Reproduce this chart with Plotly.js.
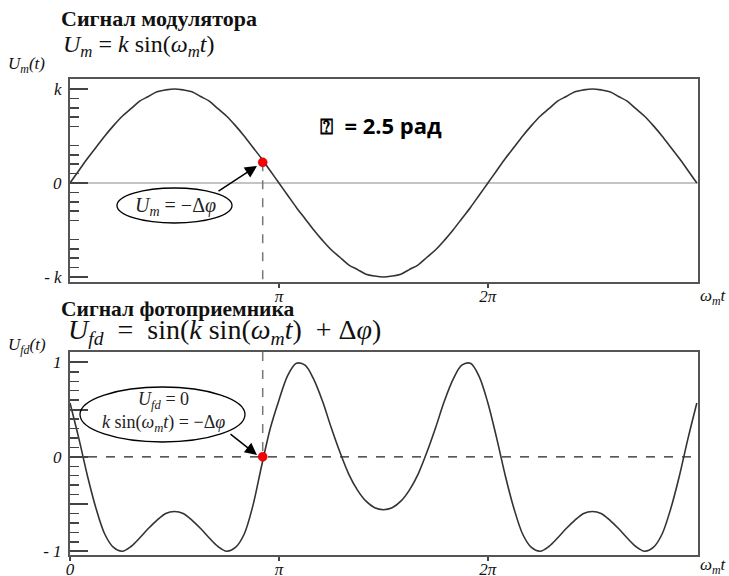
<!DOCTYPE html>
<html>
<head>
<meta charset="utf-8">
<script src="https://cdn.plot.ly/plotly-3.0.1.min.js"></script>
<style>html,body{margin:0;padding:0;background:#fff;}#chart{width:729px;height:576px;}</style>
</head>
<body>
<div id="chart"></div>
<script>
// phase ωm·t in degrees (180 = π)
const phaseDeg = [0,7.5,15,22.5,30,37.5,45,52.5,60,67.5,75,82.5,90,
  97.5,105,112.5,120,127.5,135,142.5,150,157.5,165,172.5,180,
  187.5,195,202.5,210,217.5,225,232.5,240,247.5,255,262.5,270,
  277.5,285,292.5,300,307.5,315,322.5,330,337.5,345,352.5,360,
  367.5,375,382.5,390,397.5,405,412.5,420,427.5,435,442.5,450,
  457.5,465,472.5,480,487.5,495,502.5,510,517.5,525,532.5,540];
// modulator signal, units of k
const modulatorU = [0,0.13,0.26,0.38,0.5,0.61,0.71,0.79,0.87,0.92,0.97,0.99,1,
  0.99,0.97,0.92,0.87,0.79,0.71,0.61,0.5,0.38,0.26,0.13,0,
  -0.13,-0.26,-0.38,-0.5,-0.61,-0.71,-0.79,-0.87,-0.92,-0.97,-0.99,-1,
  -0.99,-0.97,-0.92,-0.87,-0.79,-0.71,-0.61,-0.5,-0.38,-0.26,-0.13,0,
  0.13,0.26,0.38,0.5,0.61,0.71,0.79,0.87,0.92,0.97,0.99,1,
  0.99,0.97,0.92,0.87,0.79,0.71,0.61,0.5,0.38,0.26,0.13,0];
// photodetector signal
const detectorU = [0.57,0.20,-0.20,-0.55,-0.82,-0.96,-1.00,-0.95,-0.86,-0.76,-0.67,-0.60,-0.58,
  -0.60,-0.67,-0.76,-0.86,-0.95,-1.00,-0.96,-0.82,-0.52,-0.10,0.30,0.60,
  0.86,0.99,0.97,0.82,0.59,0.31,0.05,-0.18,-0.35,-0.47,-0.54,-0.56,
  -0.54,-0.47,-0.35,-0.18,0.05,0.31,0.59,0.82,0.97,0.99,0.85,0.57,
  0.20,-0.20,-0.55,-0.82,-0.96,-1.00,-0.95,-0.86,-0.76,-0.67,-0.60,-0.58,
  -0.60,-0.67,-0.76,-0.86,-0.95,-1.00,-0.96,-0.82,-0.55,-0.20,0.20,0.57];
// marked operating point
const pointPhase = [166];
const pointModU = [0.22];
const pointDetU = [0];
// tick labels
const xTickValsTop = [180, 360];
const xTickTextTop = ['π', '2π'];
const xTickValsBot = [0, 180, 360];
const xTickTextBot = ['0', 'π', '2π'];
const yTickValsTop = [-1, 0, 1];
const yTickTextTop = ['- k', '0', 'k'];
const yTickValsBot = [-1, -0.5, 0, 0.5, 1];
const yTickTextBot = ['- 1', '', '0', '', '1'];
const yMinorTop = [-0.9,-0.8,-0.7,-0.6,-0.4,-0.3,-0.2,-0.1,0.1,0.2,0.3,0.4,0.6,0.7,0.8,0.9];

const SERIF = 'Liberation Serif, Times New Roman, serif';
const L = 70, R = 698, T = 79, B = 555;
const fx = p => (p - L) / (R - L);
const fy = p => (B - p) / (B - T);
const S = '\u00A0';

const lineStyle = {color: '#333', width: 1.6, shape: 'spline', smoothing: 0.9};
const dotStyle = {color: '#ff0000', size: 9, line: {color: '#900', width: 0.5}};
const traces = [
  {x: phaseDeg, y: modulatorU, xaxis: 'x', yaxis: 'y', mode: 'lines', line: lineStyle, hoverinfo: 'skip'},
  {x: phaseDeg, y: detectorU, xaxis: 'x2', yaxis: 'y2', mode: 'lines', line: lineStyle, hoverinfo: 'skip'},
  {x: pointPhase, y: pointModU, xaxis: 'x', yaxis: 'y', mode: 'markers', marker: dotStyle, hoverinfo: 'skip'},
  {x: pointPhase, y: pointDetU, xaxis: 'x2', yaxis: 'y2', mode: 'markers', marker: dotStyle, hoverinfo: 'skip'}
];

const xCommon = {
  range: [0, 541], showgrid: false, zeroline: false, showline: true, mirror: true,
  linecolor: '#555', linewidth: 2, ticks: 'outside', ticklen: 4, tickwidth: 2, tickcolor: '#444',
  tickfont: {family: SERIF, size: 17, style: 'italic', color: '#111'}, ticklabelstandoff: -6, fixedrange: true
};
const yCommon = {
  showgrid: false, zeroline: false, showline: true, mirror: true,
  linecolor: '#555', linewidth: 2, ticks: 'inside', ticklen: 18, tickwidth: 2, tickcolor: '#444',
  tickfont: {family: SERIF, size: 17, style: 'italic', color: '#111'}, ticklabelstandoff: 3, fixedrange: true
};

const layout = {
  width: 729, height: 576,
  margin: {l: 70, r: 31, t: 79, b: 21, pad: 0},
  paper_bgcolor: '#fff', plot_bgcolor: '#fff',
  showlegend: false,
  xaxis: Object.assign({}, xCommon, {anchor: 'y', tickvals: xTickValsTop, ticktext: xTickTextTop}),
  xaxis2: Object.assign({}, xCommon, {anchor: 'y2', tickvals: xTickValsBot, ticktext: xTickTextBot}),
  yaxis: Object.assign({}, yCommon, {domain: [fy(282), 1], range: [-1.053, 1.106], anchor: 'x',
    tickvals: yTickValsTop, ticktext: yTickTextTop,
    minor: {tickmode: 'array', tickvals: yMinorTop, ticks: 'inside', ticklen: 9, tickwidth: 1.5, tickcolor: '#444'}}),
  yaxis2: Object.assign({}, yCommon, {domain: [0, fy(352)], range: [-1.04, 1.11], anchor: 'x2',
    tickvals: yTickValsBot, ticktext: yTickTextBot,
    minor: {tick0: 0, dtick: 0.1, ticks: 'inside', ticklen: 9, tickwidth: 1.5, tickcolor: '#444'}}),
  shapes: [
    {type: 'line', xref: 'x', yref: 'y', x0: 0, x1: 541, y0: 0, y1: 0, layer: 'below', line: {color: '#b0b0b0', width: 1.5}},
    {type: 'line', xref: 'x', yref: 'y', x0: pointPhase[0], x1: pointPhase[0], y0: pointModU[0], y1: -1.053, layer: 'below', line: {color: '#777', width: 1.5, dash: 'dash'}},
    {type: 'line', xref: 'x2', yref: 'y2', x0: pointPhase[0], x1: pointPhase[0], y0: 1.11, y1: pointDetU[0], layer: 'below', line: {color: '#777', width: 1.5, dash: 'dash'}},
    {type: 'line', xref: 'x2', yref: 'y2', x0: 0, x1: 541, y0: 0, y1: 0, layer: 'below', line: {color: '#222', width: 1.2, dash: 'dash'}},
    {type: 'circle', xref: 'paper', yref: 'paper', x0: fx(117), x1: fx(232), y0: fy(223), y1: fy(188), line: {color: '#000', width: 1.3}},
    {type: 'circle', xref: 'paper', yref: 'paper', x0: fx(80), x1: fx(245), y0: fy(442), y1: fy(387), line: {color: '#000', width: 1.3}}
  ],
  annotations: [
    {xref: 'paper', yref: 'paper', x: fx(59), y: fy(18), xanchor: 'left', yanchor: 'middle', showarrow: false,
     text: '<b>Сигнал модулятора</b>', font: {family: SERIF, size: 22, color: '#111'}},
    {xref: 'paper', yref: 'paper', x: fx(61), y: fy(46), xanchor: 'left', yanchor: 'middle', showarrow: false,
     text: '<i>U</i><sub><i>m</i></sub> = <i>k</i> sin(<i>ω</i><sub><i>m</i></sub><i>t</i>)', font: {family: SERIF, size: 24, color: '#111'}},
    {xref: 'paper', yref: 'paper', x: fx(59), y: fy(309), xanchor: 'left', yanchor: 'middle', showarrow: false,
     text: '<b>Сигнал фотоприемника</b>', font: {family: SERIF, size: 21.5, color: '#111'}},
    {xref: 'paper', yref: 'paper', x: fx(66), y: fy(331), xanchor: 'left', yanchor: 'middle', showarrow: false,
     text: '<i>U</i><sub><i>fd</i></sub>' + S + S + '=' + S + S + 'sin(<i>k</i>' + S + 'sin(<i>ω</i><sub><i>m</i></sub><i>t</i>)' + S + S + '+' + S + 'Δ<i>φ</i>)',
     font: {family: SERIF, size: 28, color: '#111'}},
    {xref: 'paper', yref: 'paper', x: fx(6), y: fy(65), xanchor: 'left', yanchor: 'middle', showarrow: false,
     text: '<i>U<sub>m</sub>(t)</i>', font: {family: SERIF, size: 17, color: '#111'}},
    {xref: 'paper', yref: 'paper', x: fx(6), y: fy(346), xanchor: 'left', yanchor: 'middle', showarrow: false,
     text: '<i>U<sub>fd</sub>(t)</i>', font: {family: SERIF, size: 17, color: '#111'}},
    {xref: 'paper', yref: 'paper', x: fx(698), y: fy(297), xanchor: 'left', yanchor: 'middle', showarrow: false,
     text: '<i>ω<sub>m</sub>t</i>', font: {family: SERIF, size: 17, color: '#111'}},
    {xref: 'paper', yref: 'paper', x: fx(698), y: fy(566), xanchor: 'left', yanchor: 'middle', showarrow: false,
     text: '<i>ω<sub>m</sub>t</i>', font: {family: SERIF, size: 17, color: '#111'}},
    {xref: 'paper', yref: 'paper', x: fx(318), y: fy(125), xanchor: 'left', yanchor: 'middle', showarrow: false,
     text: '<b>⍰' + S + S + '= 2.5 рад</b>', font: {family: 'Open Sans, Lato, sans-serif', size: 22, color: '#000'}},
    {xref: 'paper', yref: 'paper', x: fx(175), y: fy(206), xanchor: 'center', yanchor: 'middle', showarrow: false,
     text: '<i>U</i><sub><i>m</i></sub> = −Δ<i>φ</i>', font: {family: SERIF, size: 20, color: '#222'}},
    {xref: 'paper', yref: 'paper', x: fx(163), y: fy(412), xanchor: 'center', yanchor: 'middle', showarrow: false,
     text: '<i>U</i><sub><i>fd</i></sub> = 0<br><i>k</i> sin(<i>ω</i><sub><i>m</i></sub><i>t</i>) = −Δ<i>φ</i>', font: {family: SERIF, size: 18, color: '#222'}},
    {xref: 'paper', yref: 'paper', x: fx(257), y: fy(166), ax: -40, ay: 26, text: '', showarrow: true,
     arrowhead: 2, arrowsize: 1.6, arrowwidth: 1.5, arrowcolor: '#000', standoff: 0},
    {xref: 'paper', yref: 'paper', x: fx(257), y: fy(455), ax: -28, ay: -22, text: '', showarrow: true,
     arrowhead: 2, arrowsize: 1.6, arrowwidth: 1.5, arrowcolor: '#000', standoff: 0}
  ]
};

Plotly.newPlot('chart', traces, layout, {staticPlot: true, displayModeBar: false});
</script>
</body>
</html>
